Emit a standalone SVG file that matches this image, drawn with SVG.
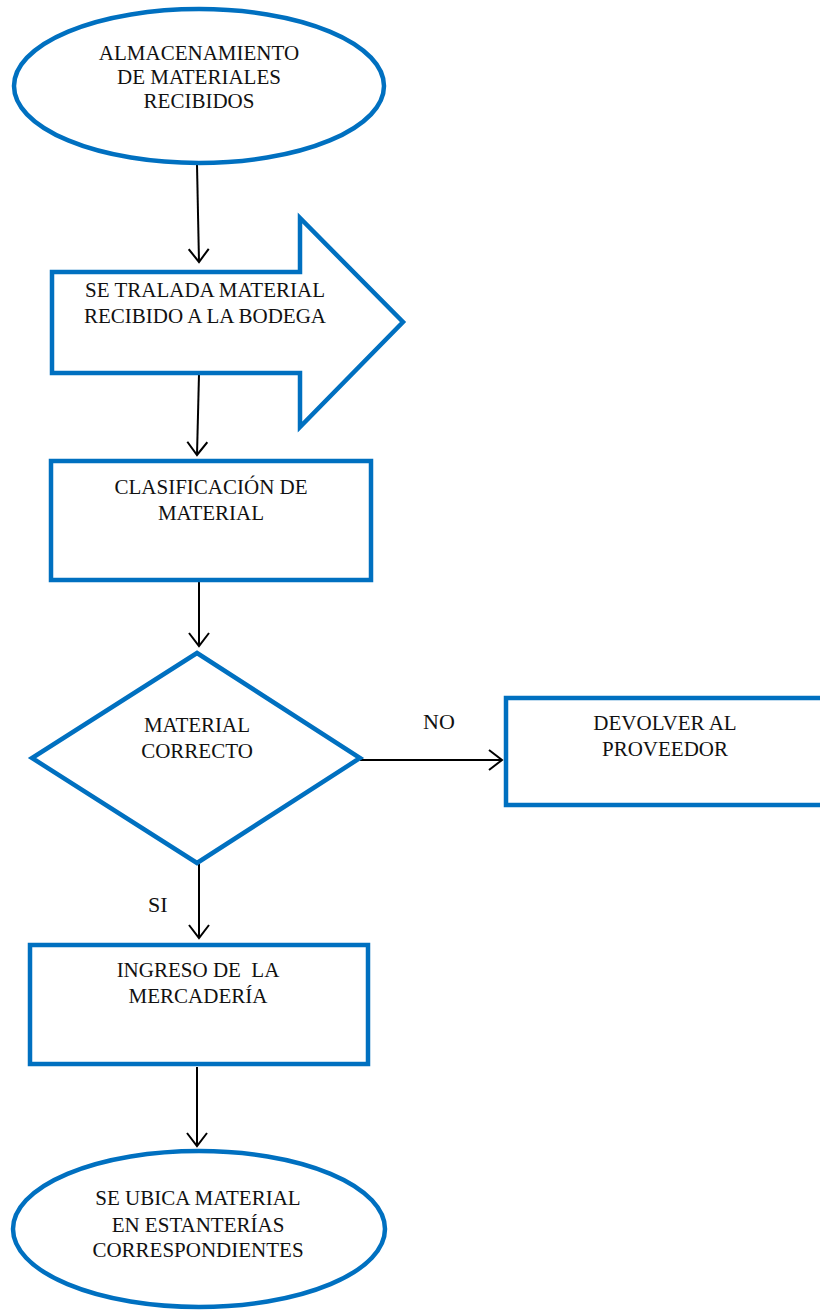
<svg xmlns="http://www.w3.org/2000/svg" width="820" height="1311" viewBox="0 0 820 1311">
<defs>
<style>
.shape{fill:#fff;stroke:#0070C0;stroke-width:4.5;}
.t{font-family:"Liberation Serif","Times New Roman",serif;font-size:21px;fill:#111;text-anchor:middle;}
.lbl{font-family:"Liberation Serif","Times New Roman",serif;font-size:22px;fill:#111;}
.c{stroke:#000;stroke-width:2;fill:none;marker-end:url(#ah);}
</style>
<marker id="ah" viewBox="0 0 16 22" refX="14" refY="11" markerWidth="16" markerHeight="22" markerUnits="userSpaceOnUse" orient="auto">
<path d="M1,1 L14,11 L1,21" fill="none" stroke="#000" stroke-width="2"/>
</marker>
</defs>
<rect width="820" height="1311" fill="#fff"/>
<g id="connectors">
<path class="c" d="M197,165 L199,262"/>
<path class="c" d="M199,374 L197,455"/>
<path class="c" d="M199,582 L199,646"/>
<path class="c" d="M360,760 L502,760"/>
<path class="c" d="M199,864 L199,938"/>
<path class="c" d="M197,1067 L197,1146"/>
<text class="lbl" x="423" y="729">NO</text>
<text class="lbl" x="148" y="912">SI</text>
</g>
<g id="n1">
<ellipse class="shape" cx="199" cy="86" rx="185" ry="77"/>
<text class="t" x="199" y="60">ALMACENAMIENTO</text>
<text class="t" x="199" y="84">DE MATERIALES</text>
<text class="t" x="199" y="108">RECIBIDOS</text>
</g>
<g id="n2">
<path class="shape" d="M52,272 L300,272 L300,218 L403,322 L300,427 L300,373 L52,373 Z"/>
<text class="t" x="205" y="297">SE TRALADA MATERIAL</text>
<text class="t" x="205" y="323">RECIBIDO A LA BODEGA</text>
</g>
<g id="n3">
<rect class="shape" x="51" y="461" width="320" height="119"/>
<text class="t" x="211" y="494">CLASIFICACIÓN DE</text>
<text class="t" x="211" y="520">MATERIAL</text>
</g>
<g id="n4">
<path class="shape" d="M197,653 L360,758 L197,863 L32,758 Z"/>
<text class="t" x="197" y="732">MATERIAL</text>
<text class="t" x="197" y="758">CORRECTO</text>
</g>
<g id="n5">
<rect class="shape" x="506" y="698" width="330" height="107"/>
<text class="t" x="665" y="730">DEVOLVER AL</text>
<text class="t" x="665" y="756">PROVEEDOR</text>
</g>
<g id="n6">
<rect class="shape" x="30" y="945" width="338" height="119"/>
<text class="t" x="198" y="977" xml:space="preserve">INGRESO DE  LA</text>
<text class="t" x="198" y="1003">MERCADERÍA</text>
</g>
<g id="n7">
<ellipse class="shape" cx="199" cy="1229" rx="186" ry="78"/>
<text class="t" x="198" y="1205">SE UBICA MATERIAL</text>
<text class="t" x="198" y="1232">EN ESTANTERÍAS</text>
<text class="t" x="198" y="1257">CORRESPONDIENTES</text>
</g>
</svg>
